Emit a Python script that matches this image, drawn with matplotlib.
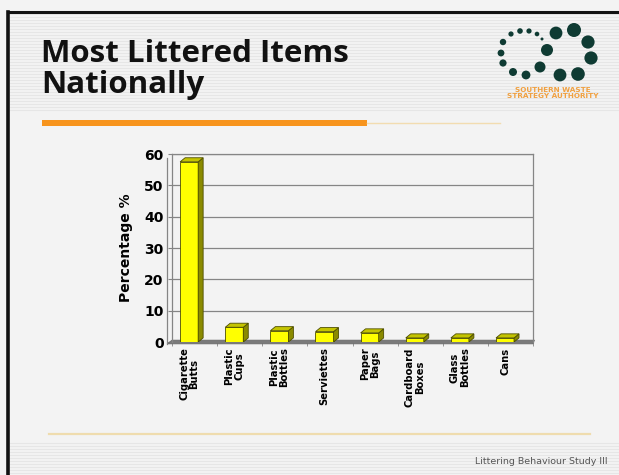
import numpy as np
import matplotlib
matplotlib.use('Agg')
import matplotlib.pyplot as plt
from matplotlib.patches import Polygon, Circle, Rectangle

# data
items = ['Cigarette\nButts', 'Plastic\nCups', 'Plastic\nBottles', 'Serviettes',
         'Paper\nBags', 'Cardboard\nBoxes', 'Glass\nBottles', 'Cans']
percent = [57.5, 4.7, 3.6, 3.3, 2.9, 1.3, 1.3, 1.3]
y_ticks = [0, 10, 20, 30, 40, 50, 60]

title = 'Most Littered Items\nNationally'
footer = 'Littering Behaviour Study III'
org = 'SOUTHERN WASTE\nSTRATEGY AUTHORITY'

W, H = 619, 475
BG = '#f3f3f3'
fig = plt.figure(figsize=(W / 100, H / 100), dpi=100, facecolor=BG)

# slide decoration layer in pixel coords
deco = fig.add_axes([0, 0, 1, 1])
deco.set_xlim(0, W)
deco.set_ylim(H, 0)
deco.axis('off')
deco.set_facecolor(BG)

# faint scanline stripes of the slide background
for yy in np.arange(14, 112, 3.0):
    deco.plot([10, W], [yy, yy], color='#e6e6e6', lw=0.8, zorder=0)
for yy in np.arange(443, H, 3.0):
    deco.plot([10, W], [yy, yy], color='#e6e6e6', lw=0.8, zorder=0)

# slide border (top and left)
deco.plot([8, W], [12, 12], color='#111111', lw=2.2)
deco.plot([8, 8], [12, H], color='#111111', lw=2.6)

deco.text(41, 39, title, fontsize=22.5, fontweight='bold', family='Open Sans',
          color='#111111', va='top', ha='left', linespacing=1.03)

# orange rule under the title
deco.add_patch(Rectangle((42, 120), 325, 6, color='#f7941d', lw=0))
deco.plot([367, 500], [122.5, 122.5], color='#f2dcb0', lw=1.0)
deco.plot([49, 590], [434, 434], color='#efdcae', lw=1.6)

deco.text(608, 462, footer, fontsize=6.8, color='#555555', ha='right', va='center')

# logo: ring of small dots + ring of big dots
small = [(511, 34, 2.6), (520, 31, 2.8), (529, 31, 2.6), (537, 34, 2.3), (542, 39, 1.5),
         (503, 42, 3.2), (501, 53, 3.4), (503, 63, 3.6), (513, 72, 4.0), (526, 75, 4.4)]
big = [(540, 67, 5.5), (547, 50, 6.0), (556, 33, 6.4), (574, 30, 7.0), (588, 42, 6.6),
       (591, 58, 6.6), (578, 74, 6.8), (560, 75, 6.4)]
for cx, cy, r in small + big:
    deco.add_patch(Circle((cx, cy), r, color='#0f3b33', lw=0))
deco.text(553, 93, org, fontsize=5.2, fontweight='bold', color='#f0a040',
          ha='center', va='center', linespacing=1.1)

# chart
left, right, bottom, top = 172, 533, 342, 154
ax = fig.add_axes([left / W, 1 - bottom / H, (right - left) / W, (bottom - top) / H])
ax.set_facecolor('none')
ax.set_xlim(-0.5, len(items) - 0.5)
ax.set_ylim(0, 60)

x = np.arange(len(items)) - 0.12
w = 0.4
dx, dy = 0.11, 1.3
edge = '#4d4d00'

ax.bar(x, percent, width=w, color='#ffff00', edgecolor=edge, lw=0.6, zorder=3)
for xi, v in zip(x, percent):
    side = [(xi + w / 2, 0), (xi + w / 2 + dx, dy), (xi + w / 2 + dx, v + dy), (xi + w / 2, v)]
    topf = [(xi - w / 2, v), (xi + w / 2, v), (xi + w / 2 + dx, v + dy), (xi - w / 2 + dx, v + dy)]
    ax.add_patch(Polygon(side, closed=True, fc='#8a8a00', ec=edge, lw=0.6, zorder=3))
    ax.add_patch(Polygon(topf, closed=True, fc='#c4c400', ec=edge, lw=0.6, zorder=3))

# floor slab
x0, x1 = -0.5, len(items) - 0.5
floor = [(x0 - dx, -0.6), (x1, -0.6), (x1 + dx * 0.3, 0.6), (x0, 0.6)]
ax.add_patch(Polygon(floor, closed=True, fc='#7a7a7a', ec='#666666', lw=0.5,
                     zorder=2, clip_on=False))

ax.set_yticks(y_ticks)
ax.set_yticklabels([str(t) for t in y_ticks], fontsize=10, fontweight='bold')
ax.yaxis.grid(True, color='#858585', lw=0.9, zorder=1)
ax.tick_params(axis='y', length=3, color='#858585', pad=3)
ax.set_ylabel('Percentage %', fontsize=10, fontweight='bold', labelpad=8)

ax.set_xticks(x)
ax.set_xticklabels(items, rotation=90, fontsize=7.2, fontweight='bold',
                   multialignment='center', linespacing=1.0)
ax.tick_params(axis='x', length=0, pad=4)
ax.set_xticks(np.arange(len(items) + 1) - 0.5, minor=True)
ax.tick_params(axis='x', which='minor', length=3, color='#858585')

for s in ax.spines.values():
    s.set_color('#858585')
    s.set_linewidth(0.9)
ax.spines['bottom'].set_visible(False)
# front edge of the left wall
ax.plot([x0 - dx, x0 - dx], [-0.6, 60 - dy], color='#858585', lw=0.9, clip_on=False, zorder=2)

fig.savefig('out.png', dpi=100, facecolor=BG)
